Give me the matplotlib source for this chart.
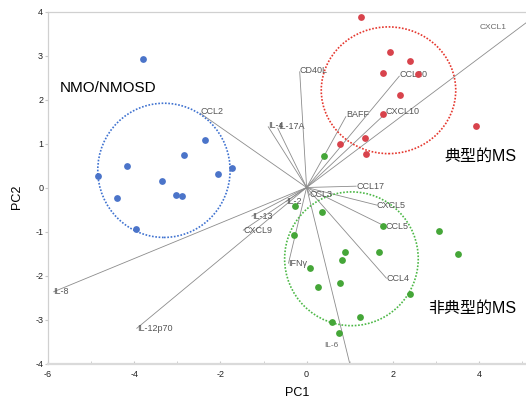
import matplotlib
matplotlib.use("Agg")
import matplotlib.pyplot as plt
from matplotlib.patches import Ellipse
from matplotlib.ticker import MultipleLocator

plt.rcParams['font.family'] = ['Liberation Sans', 'Noto Sans CJK SC', 'DejaVu Sans']
plt.rcParams['axes.unicode_minus'] = False

# sample scores on PC1 / PC2
nmo_x = [-3.80, -2.36, -2.84, -4.16, -4.85, -2.06, -1.73, -3.35, -3.04, -2.90, -4.41, -3.96]
nmo_y = [2.93, 1.08, 0.73, 0.48, 0.26, 0.31, 0.45, 0.14, -0.17, -0.20, -0.24, -0.95]

ms_x = [1.26, 1.94, 2.39, 1.77, 2.59, 2.16, 1.77, 3.92, 1.36, 0.78, 1.37]
ms_y = [3.87, 3.09, 2.88, 2.60, 2.59, 2.10, 1.66, 1.40, 1.13, 0.98, 0.76]

atyp_x = [0.40, -0.26, 0.35, 1.78, -0.30, 3.07, 0.89, 1.68, 3.52, 0.82, 0.09,
          0.77, 0.27, 2.39, 1.23, 0.58, 0.74]
atyp_y = [0.71, -0.42, -0.56, -0.88, -1.09, -0.98, -1.47, -1.47, -1.50, -1.64, -1.83,
          -2.17, -2.25, -2.41, -2.94, -3.06, -3.31]

# loading vectors
names = ["CXCL1", "CCL20", "CXCL10", "BAFF", "CD40L", "IL-4", "IL-17A", "CCL2",
         "CCL17", "CXCL5", "CCL5", "CCL4", "IL-6", "IFNγ", "CCL3", "IL-2",
         "IL-13", "CXCL9", "IL-8", "IL-12p70"]
load_x = [5.40, 2.15, 1.84, 0.91, -0.16, -0.89, -0.67, -2.47,
          1.15, 1.63, 1.82, 1.85, 1.05, -0.42, 0.07, -0.48,
          -1.27, -1.47, -5.87, -3.94]
load_y = [3.97, 2.53, 1.69, 1.61, 2.63, 1.38, 1.35, 1.69,
          0.03, -0.40, -0.88, -2.06, -4.20, -1.72, -0.17, -0.32,
          -0.65, -0.97, -2.37, -3.20]

# group ellipses: centre x, centre y, width, height
groups = ["NMO/NMOSD", "典型的MS", "非典型的MS"]
ell_cx = [-3.31, 1.90, 1.04]
ell_cy = [0.39, 2.21, -1.62]
ell_w = [3.07, 3.12, 3.10]
ell_h = [3.05, 2.88, 3.04]

blue, red, green = "#4b74c9", "#d8434c", "#45a638"
ring = ["#3f72d0", "#e5372e", "#4db847"]

fig = plt.figure(figsize=(5.26, 3.98), dpi=100)
ax = fig.add_axes([48 / 526, 34.5 / 398, 478 / 526, 352 / 398])

for n, lx, ly in zip(names, load_x, load_y):
    ax.plot([0, lx], [0, ly], color="#8c8c8c", lw=0.6, zorder=1)

# labels of vectors that run off the frame are put inside
label_at = {"CXCL1": (4.33, 3.63), "IL-6": (0.58, -3.6)}
for n, lx, ly in zip(names, load_x, load_y):
    if n in label_at:
        ax.text(*label_at[n], n, fontsize=6, color="#6a6a6a", ha="center", va="center")
    else:
        ax.annotate(n, (lx, ly), xytext=(0, 1.2 if ly > 0.3 else 0), textcoords="offset points",
                    fontsize=6.5, color="#555555", ha="left", va="center")

for i in range(3):
    ax.add_patch(Ellipse((ell_cx[i], ell_cy[i]), ell_w[i], ell_h[i], fill=False,
                         ls=(0, (1, 1)), lw=1.2, ec=ring[i], zorder=2))

ax.scatter(nmo_x, nmo_y, s=24, color=blue, zorder=3, linewidths=0)
ax.scatter(ms_x, ms_y, s=24, color=red, zorder=3, linewidths=0)
ax.scatter(atyp_x, atyp_y, s=24, color=green, zorder=3, linewidths=0)

ax.text(-5.72, 2.26, groups[0], fontsize=11, ha="left", va="center")
ax.text(4.87, 0.70, groups[1], fontsize=11.5, ha="right", va="center")
ax.text(4.87, -2.75, groups[2], fontsize=11.5, ha="right", va="center")

ax.set_xlim(-6, 5.09)
ax.set_ylim(-4, 4)
ax.set_xticks([-6, -4, -2, 0, 2, 4])
ax.set_yticks(range(-4, 5))
ax.xaxis.set_minor_locator(MultipleLocator(1))
ax.tick_params(axis="x", which="both", direction="in", length=2, color="#c8c8c8",
               labelsize=6.5, labelcolor="#222222", pad=5)
ax.tick_params(axis="y", direction="out", length=2, color="#c8c8c8",
               labelsize=6.5, labelcolor="#222222", pad=1.5)
ax.spines["right"].set_visible(False)
ax.spines["bottom"].set_color("#dadada")
ax.spines["bottom"].set_linewidth(1.6)
for s in ["left", "top"]:
    ax.spines[s].set_color("#d0d0d0")
    ax.spines[s].set_linewidth(0.9)

fig.text(297 / 526, 1 - 393 / 398, "PC1", fontsize=9, ha="center", va="center")
fig.text(17 / 526, 1 - 197 / 398, "PC2", fontsize=9, ha="center", va="center", rotation=90)

fig.savefig("out.png", dpi=100)
